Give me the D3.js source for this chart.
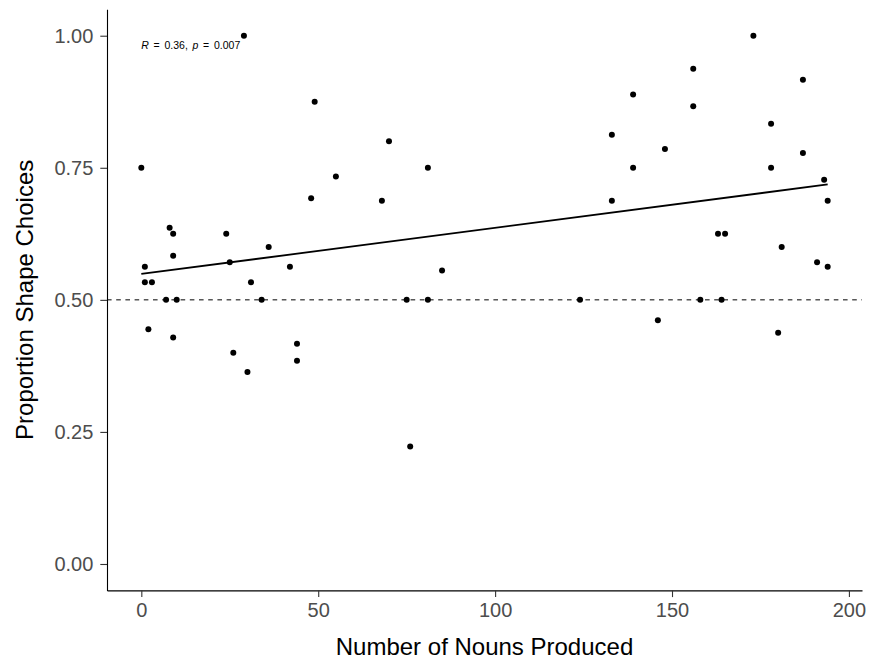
<!DOCTYPE html>
<html>
<head>
<meta charset="utf-8">
<script src="https://cdn.jsdelivr.net/npm/d3@7"></script>
<style>
  html, body { margin: 0; padding: 0; background: #fff; }
  svg { display: block; font-family: "Liberation Sans", Arial, Helvetica, sans-serif; }
</style>
</head>
<body>
<svg id="chart" width="869" height="659"></svg>
<script>
// Nouns produced per participant and the proportion of shape-based choices
const nounsProduced = [
  0, 1, 1, 2, 3, 7, 8, 9, 9, 9, 10,
  24, 25, 26, 29, 30, 31, 34, 36,
  42, 44, 44, 48, 49, 55,
  68, 70, 75, 76, 81, 81, 85,
  124, 133, 133, 139, 139, 146, 148,
  156, 156, 158, 163, 164, 165,
  173, 178, 178, 180, 181,
  187, 187, 191, 193, 194, 194
];
const shapeProportion = [
  0.75, 0.5625, 0.5333, 0.4444, 0.5333, 0.5, 0.6364, 0.625, 0.5833, 0.4286, 0.5,
  0.625, 0.5714, 0.4, 1.0, 0.3636, 0.5333, 0.5, 0.6,
  0.5625, 0.4167, 0.3846, 0.6923, 0.875, 0.7333,
  0.6875, 0.8, 0.5, 0.2222, 0.75, 0.5, 0.5556,
  0.5, 0.8125, 0.6875, 0.8889, 0.75, 0.4615, 0.7857,
  0.9375, 0.8667, 0.5, 0.625, 0.5, 0.625,
  1.0, 0.8333, 0.75, 0.4375, 0.6,
  0.9167, 0.7778, 0.5714, 0.7273, 0.6875, 0.5625
];
const xTicks = [0, 50, 100, 150, 200];
const yTicks = [0, 0.25, 0.5, 0.75, 1];
const chanceLevel = 0.5;
const corLabel = { r: "0.36", p: "0.007" };

const points = nounsProduced.map((x, i) => ({ x, y: shapeProportion[i] }));

const svg = d3.select("#chart");
const panel = { left: 107, right: 862, top: 9.3, bottom: 590.4 };

// ggplot-style 5% padding around the data range
const xMin = d3.min(nounsProduced), xMax = d3.max(nounsProduced);
const xPad = (xMax - xMin) * 0.05;
const x = d3.scaleLinear().domain([xMin - xPad, xMax + xPad]).range([panel.left, panel.right]);
const y = d3.scaleLinear().domain([-0.05, 1.05]).range([panel.bottom, panel.top]);

// chance reference line
svg.append("line")
  .attr("x1", panel.left).attr("x2", panel.right)
  .attr("y1", y(chanceLevel)).attr("y2", y(chanceLevel))
  .attr("stroke", "#000").attr("stroke-width", 1)
  .attr("stroke-dasharray", "4.6,4.6");

// ordinary least-squares fit
const mx = d3.mean(nounsProduced), my = d3.mean(shapeProportion);
let sxy = 0, sxx = 0;
points.forEach(d => { sxy += (d.x - mx) * (d.y - my); sxx += (d.x - mx) ** 2; });
const slope = sxy / sxx, intercept = my - slope * mx;
svg.append("line")
  .attr("x1", x(xMin)).attr("x2", x(xMax))
  .attr("y1", y(intercept + slope * xMin)).attr("y2", y(intercept + slope * xMax))
  .attr("stroke", "#000").attr("stroke-width", 1.8);

// participants
svg.append("g").selectAll("circle").data(points).join("circle")
  .attr("cx", d => x(d.x)).attr("cy", d => y(d.y))
  .attr("r", 3).attr("fill", "#000");

// axes
const xAxis = svg.append("g").attr("transform", `translate(0,${panel.bottom})`)
  .call(d3.axisBottom(x).tickValues(xTicks).tickFormat(d3.format("d"))
    .tickSize(6.7).tickSizeOuter(0).tickPadding(6.2));
const yAxis = svg.append("g").attr("transform", `translate(${panel.left},0)`)
  .call(d3.axisLeft(y).tickValues(yTicks).tickFormat(d3.format(".2f"))
    .tickSize(6.7).tickSizeOuter(0).tickPadding(7));

[xAxis, yAxis].forEach(g => {
  g.select(".domain").attr("stroke", "#000").attr("stroke-width", 1.1);
  g.selectAll(".tick line").attr("stroke", "#333").attr("stroke-width", 1.1);
  g.selectAll(".tick text").attr("fill", "#4D4D4D").attr("font-size", 20)
    .attr("font-family", "Liberation Sans, Arial, sans-serif");
});

// axis titles
svg.append("text")
  .attr("x", (panel.left + panel.right) / 2).attr("y", 654.5)
  .attr("text-anchor", "middle").attr("font-size", 24).attr("fill", "#000")
  .text("Number of Nouns Produced");
svg.append("text")
  .attr("transform", `translate(32.7,${(panel.top + panel.bottom) / 2}) rotate(-90)`)
  .attr("text-anchor", "middle").attr("font-size", 24).attr("fill", "#000")
  .text("Proportion Shape Choices");

// correlation annotation
const lab = svg.append("text")
  .attr("x", x(xMin)).attr("y", 49.3)
  .attr("font-size", 10.5).attr("fill", "#000")
  .attr("word-spacing", "1.8px")
  .attr("xml:space", "preserve");
lab.append("tspan").attr("font-style", "italic").text("R");
lab.append("tspan").text(` = ${corLabel.r}, `);
lab.append("tspan").attr("font-style", "italic").text("p");
lab.append("tspan").text(` = ${corLabel.p}`);
</script>
</body>
</html>
